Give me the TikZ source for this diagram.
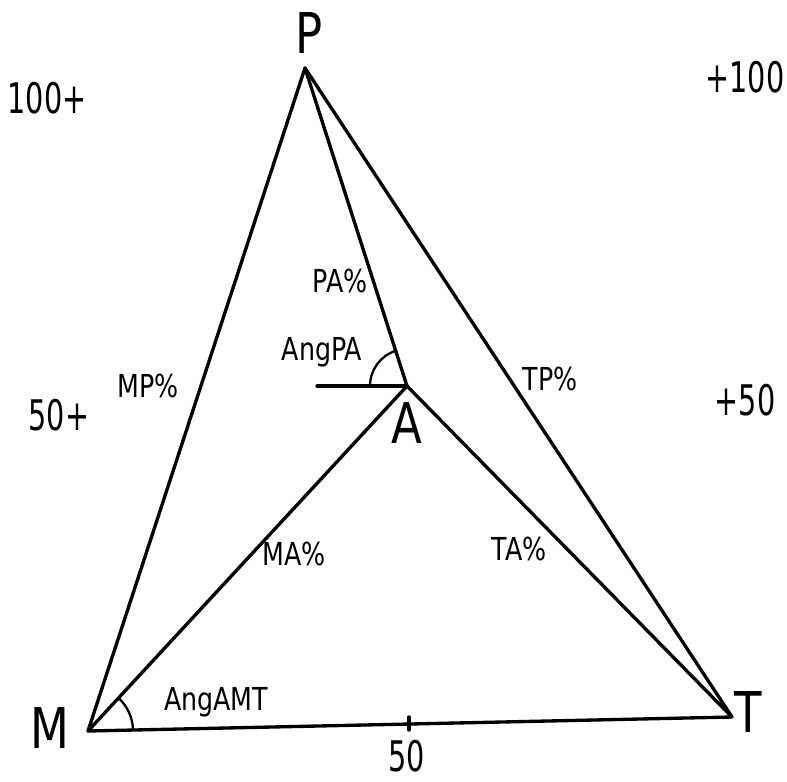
\documentclass[tikz,border=0pt]{standalone}
\usepackage{fontspec}
\newfontfamily\plotfont[FakeStretch=0.8]{DejaVu Sans}
\newfontfamily\numfont[FakeStretch=0.68]{DejaVu Sans}
\usetikzlibrary{angles}

\begin{document}
\begin{tikzpicture}[x=0.02cm,y=-0.02cm,
  edge/.style={line width=1.9pt,line join=round,line cap=round},
  arcline/.style={draw,line width=1.3pt},
  vtx/.style={font=\plotfont\fontsize{32}{35}\selectfont,inner sep=0pt,anchor=base},
  lbl/.style={font=\plotfont\fontsize{18}{20}\selectfont,inner sep=0pt,anchor=base},
  num/.style={font=\numfont\fontsize{24}{26}\selectfont,inner sep=0pt,anchor=base}]
  \useasboundingbox (0,0) rectangle (787,781);
  % corners and the inner point
  \coordinate (P) at (305,68);
  \coordinate (M) at (88,731);
  \coordinate (T) at (732,717);
  \coordinate (A) at (407,386);
  \coordinate (H) at (317,386);
  \coordinate (tick) at (409,724);
  % lines
  \draw[edge] (M)--(P)--(T)--cycle;
  \draw[edge] (P)--(A);
  \draw[edge] (M)--(A)--(T);
  \draw[edge] (A)--(H);
  \draw[edge] (tick) ++(0,-7) -- ++(0,13);
  \pic[arcline,angle radius=0.9cm]{angle=T--M--A};
  \pic[arcline,angle radius=0.74cm]{angle=P--A--H};
  % corner letters
  \node[vtx] (lP) at (309,53) {P};
  \node[vtx] (lM) at (50,748) {M};
  \node[vtx] (lT) at (748,732) {T};
  \node[vtx] (lA) at (407,443) {A};
  % scale marks
  \node[num] (n100l) at (47,113) {100+};
  \node[num] (n100r) at (745,92) {+100};
  \node[num] (n50l) at (59,430) {50+};
  \node[num] (n50r) at (745,415) {+50};
  \node[num] (n50b) at (407,771) {50};
  % line labels
  \node[lbl] (mp) at (148,397) {MP\%};
  \node[lbl] (pa) at (340,292) {PA\%};
  \node[lbl] (angpa) at (322,360) {AngPA};
  \node[lbl] (tp) at (550,390) {TP\%};
  \node[lbl] (ma) at (294,565) {MA\%};
  \node[lbl] (ta) at (519,560) {TA\%};
  \node[lbl] (angamt) at (216,710) {AngAMT};
\end{tikzpicture}
\end{document}
